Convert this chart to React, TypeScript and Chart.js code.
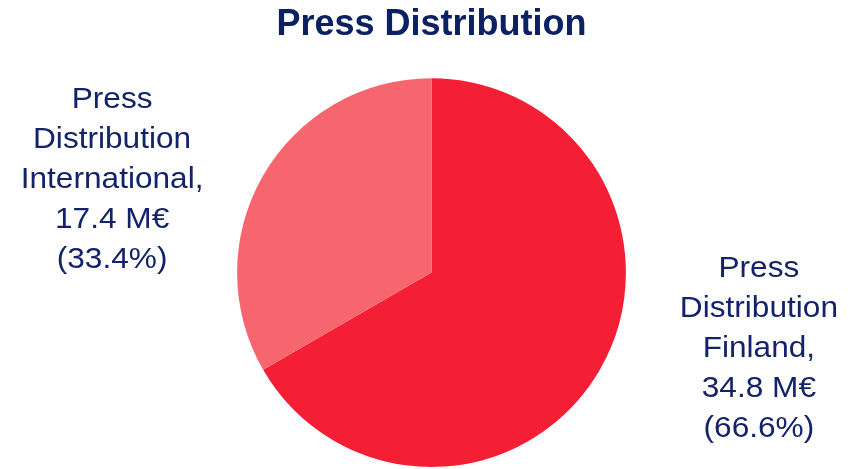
import React, { useEffect, useRef } from "react";
import { Chart, registerables } from "chart.js";

Chart.register(...registerables);

const chartTitle = "Press Distribution";
const categories = ["Press Distribution Finland", "Press Distribution International"];
const labelLines = [
  ["Press", "Distribution", "Finland,"],
  ["Press", "Distribution", "International,"],
];
const valuesMEur = [34.8, 17.4];
const percents = [66.6, 33.4];
const sliceColors = ["#F41F34", "#F7656F"];

const W = 863;
const H = 469;

const labelPlugin = {
  id: "outsideLabels",
  afterDraw(chart: any) {
    const meta = chart.getDatasetMeta(0);
    const ctx = chart.ctx;
    const fontSize = 29;
    const lineH = 40;
    const scaleX = 1.09;
    const gaps = [133, 125];
    ctx.save();
    ctx.fillStyle = "#13236A";
    ctx.font = `${fontSize}px "Liberation Sans", Arial, sans-serif`;
    ctx.textAlign = "center";
    ctx.textBaseline = "alphabetic";
    meta.data.forEach((arc: any, i: number) => {
      const p = arc.getProps(["x", "y", "startAngle", "endAngle", "outerRadius"], true);
      const mid = (p.startAngle + p.endAngle) / 2;
      const dx = Math.cos(mid);
      const dy = Math.sin(mid);
      const lines = [
        ...labelLines[i],
        `${valuesMEur[i].toFixed(1)} M€`,
        `(${percents[i].toFixed(1)}%)`,
      ];
      const ax = p.x + Math.sign(dx) * (p.outerRadius + gaps[i]);
      const midBase = p.y + dy * 169;
      const firstBase = midBase - ((lines.length - 1) / 2) * lineH;
      lines.forEach((ln, k) => {
        ctx.save();
        ctx.translate(ax, firstBase + k * lineH);
        ctx.scale(scaleX, 1);
        ctx.fillText(ln, 0, 0);
        ctx.restore();
      });
    });
    ctx.restore();
  },
};

export default function App() {
  const ref = useRef<HTMLCanvasElement | null>(null);
  useEffect(() => {
    if (!ref.current) return;
    const chart = new Chart(ref.current, {
      type: "pie",
      data: {
        labels: categories,
        datasets: [
          {
            data: valuesMEur,
            backgroundColor: sliceColors,
            borderWidth: 0,
          },
        ],
      },
      options: {
        responsive: false,
        animation: false,
        layout: { padding: { top: 0, bottom: 2, left: 0, right: 0 } },
        plugins: {
          legend: { display: false },
          tooltip: { enabled: false },
          title: {
            display: true,
            text: chartTitle,
            color: "#0B2163",
            font: { family: '"Liberation Sans", Arial, sans-serif', size: 36, weight: "bold" },
            padding: { top: 3, bottom: 32 },
          },
        },
      },
      plugins: [labelPlugin],
    });
    return () => chart.destroy();
  }, []);
  return (
    <div style={{ position: "absolute", left: 0, top: 0, width: W, height: H, background: "#fff" }}>
      <canvas ref={ref} width={W} height={H} style={{ display: "block", width: W, height: H }} />
    </div>
  );
}
